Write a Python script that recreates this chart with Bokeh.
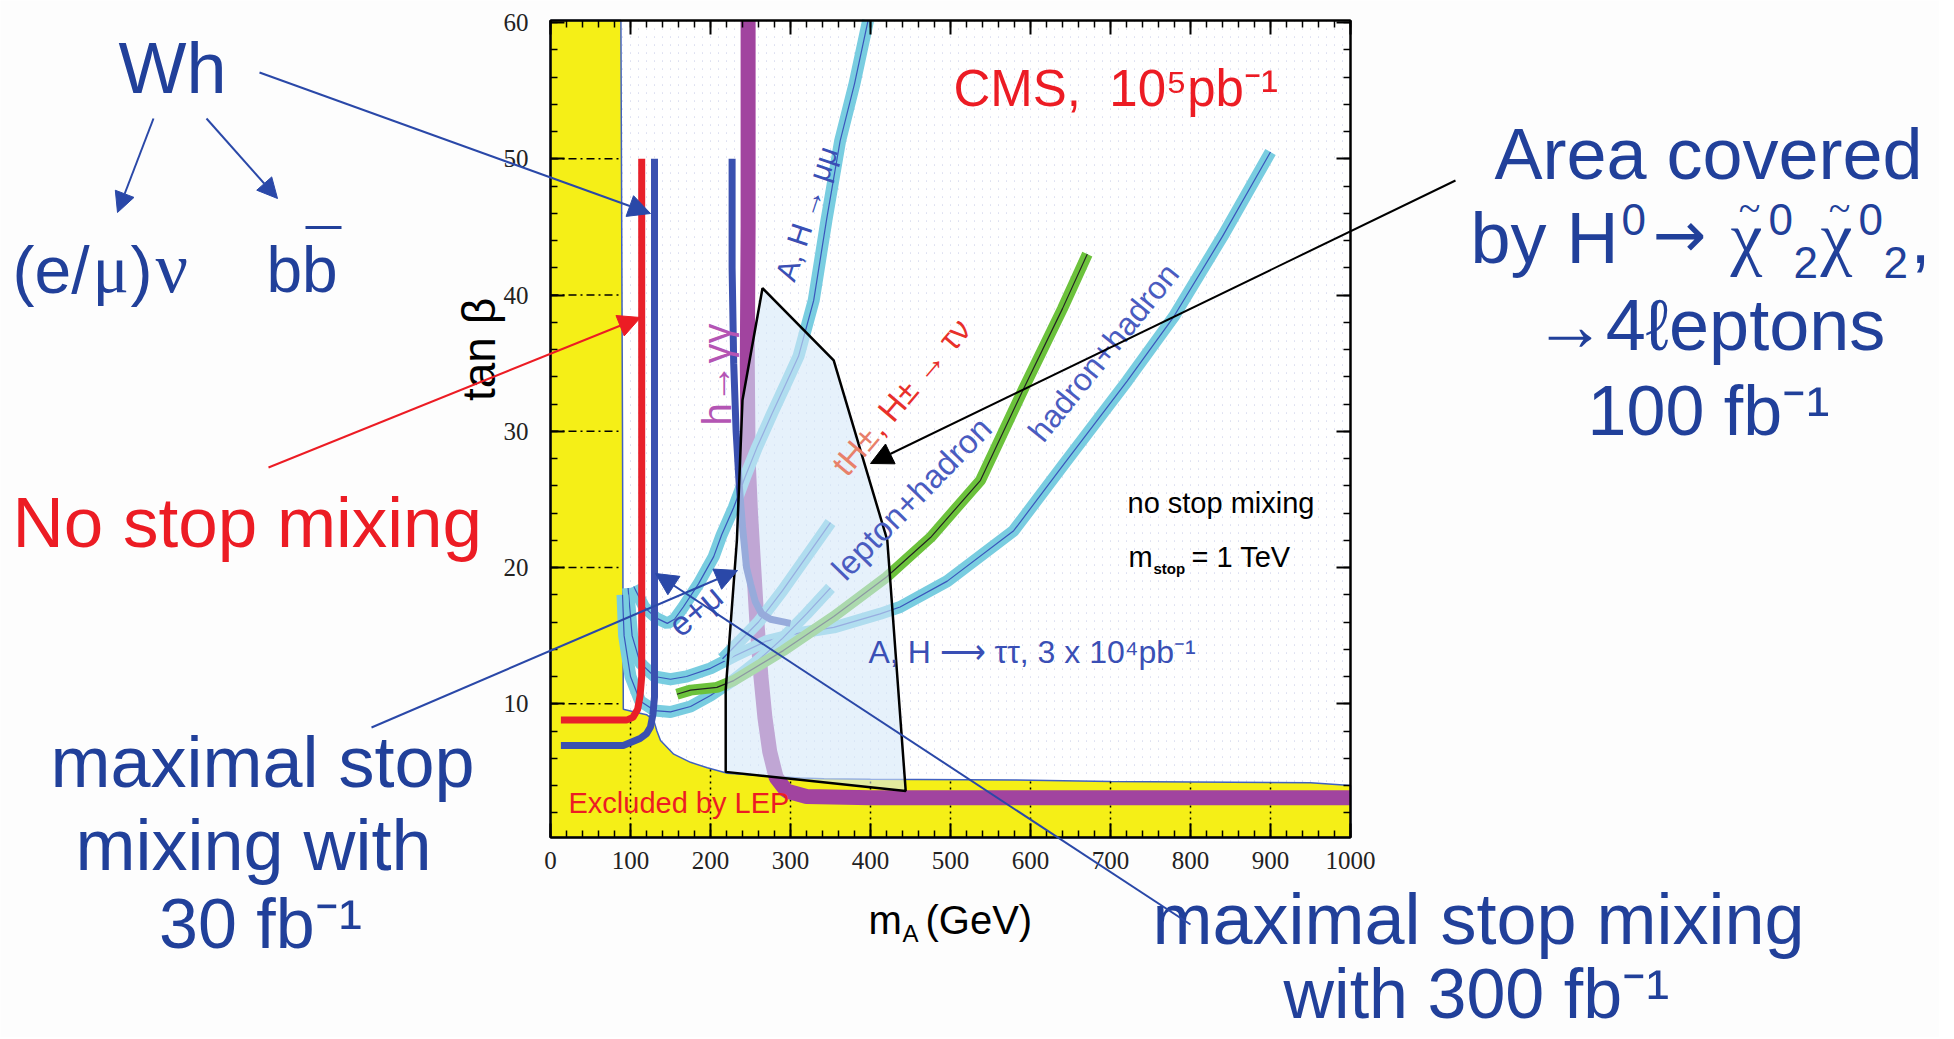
from bokeh.plotting import figure
from bokeh.models import Label, Arrow, NormalHead, LinearAxis, SingleIntervalTicker, Range1d
from bokeh.embed import file_html
from bokeh.resources import INLINE

# ---------------- data (m_A [GeV], tan beta) ----------------
x_lim = [0, 1000]
y_lim = [0.18, 60.15]

lep_x = [0, 88, 90, 91, 105, 120, 129, 133, 137.5, 154, 175, 196, 221, 271, 312, 342, 400, 580, 700, 950, 1000, 1000, 0]
lep_y = [60.15, 60.15, 30, 9.6, 9.4, 9.2, 8.8, 8.0, 7.3, 6.3, 5.7, 5.3, 4.9, 4.7, 4.55, 4.5, 4.45, 4.4, 4.3, 4.2, 4.0, 0.18, 0.18]

hgg_x = [247, 247, 246, 247, 250, 254, 258, 263, 268, 274, 282, 295, 320, 400, 1000]
hgg_y = [60.15, 45, 35, 28, 24, 20, 16, 12, 9, 6.5, 4.6, 3.6, 3.2, 3.1, 3.1]

mumu_x = [397, 380, 362, 345, 329, 310, 296, 277, 258, 243, 229, 214, 204, 185, 166, 155, 146, 132, 117, 104]
mumu_y = [60.15, 55.5, 51.3, 45.5, 39.6, 35.5, 33.7, 31.3, 28.8, 26.6, 24.4, 22.4, 20.8, 18.8, 17.1, 16.2, 15.9, 16.3, 17.1, 18.6]

hadhad_x = [900, 840, 779, 721, 642, 579, 496, 437, 412, 354, 312, 270, 230, 200, 170, 150, 130, 112, 102, 97]
hadhad_y = [50.5, 44.3, 38.4, 33.7, 27.6, 22.7, 19.0, 17.1, 16.6, 15.6, 15.2, 14.6, 13.5, 12.6, 12.0, 11.8, 12.0, 13.0, 15.0, 18.5]

emu_x = [350, 320, 290, 260, 230, 215]
emu_y = [23.3, 20.8, 18.3, 16.0, 14.2, 13.3]

lh_cyan_x = [350, 320, 290, 260, 230, 200, 175, 150, 130, 112, 100, 92, 90]
lh_cyan_y = [18.5, 16.6, 14.8, 13.2, 11.8, 10.6, 9.8, 9.4, 9.5, 10.2, 12.0, 15.0, 18.0]

tn_x = [671, 640, 592, 537.5, 475, 420, 354, 291, 229, 208, 175, 158]
tn_y = [43, 39, 33.2, 26.4, 22.2, 19.3, 16.4, 13.9, 11.7, 11.2, 11.0, 10.7]

nomix_x = [13, 95, 103, 109, 112, 114, 114]
nomix_y = [8.8, 8.8, 9.0, 9.6, 10.6, 12, 50]

max30_x = [13, 91, 112, 120, 125, 128, 130, 130]
max30_y = [6.94, 6.94, 7.45, 7.8, 8.3, 9.2, 10.5, 50]

max300_x = [227, 227, 229, 232, 236, 240, 245, 250, 256, 264, 275, 300]
max300_y = [50, 42, 35, 30, 26, 23, 20, 18.8, 17.5, 16.6, 16.2, 15.9]

chi_x = [265, 354, 421, 444, 219, 219, 233, 240]
chi_y = [40.5, 35.2, 22.0, 3.6, 5.0, 11.0, 22.0, 32.3]

grid_h = [10, 20, 30, 40, 50]
grid_v_x = [100, 200, 300, 400, 500, 600, 700, 800, 900]
grid_v_top = [8.7, 5.3, 4.5, 4.45, 4.4, 4.4, 4.3, 4.2, 4.2]

# ---------------- layout helpers (reference pixels -> data) ----------------
W, H = 1939, 1037
def X(px):
    return (px - 550) / 0.8

def Y(py):
    return (839.5 - py) / 13.625

p = figure(width=W, height=H, x_range=Range1d(X(0), X(W)), y_range=Range1d(Y(H), Y(0)),
           output_backend="svg", toolbar_location=None,
           min_border_left=0, min_border_right=0, min_border_top=0, min_border_bottom=0,
           background_fill_color="#fdfdfd", border_fill_color="#fdfdfd",
           outline_line_color=None, x_axis_type=None, y_axis_type=None)
p.grid.visible = False

def style_axis(ax, labels=True):
    ax.major_tick_in = 14
    ax.major_tick_out = 0
    ax.minor_tick_in = 7
    ax.minor_tick_out = 0
    ax.axis_line_width = 2
    ax.major_tick_line_width = 2
    ax.minor_tick_line_width = 1.5
    ax.major_label_text_font = "Liberation Serif"
    ax.major_label_text_font_size = "25px"
    ax.major_label_text_color = "#222222" if labels else None

xt = SingleIntervalTicker(interval=100, num_minor_ticks=5)
yt = SingleIntervalTicker(interval=10, num_minor_ticks=5)

bottom = LinearAxis(ticker=xt, fixed_location=y_lim[0], bounds=(x_lim[0], x_lim[1]))
style_axis(bottom)
bottom.major_label_standoff = 14
left = LinearAxis(ticker=yt, fixed_location=x_lim[0], bounds=(y_lim[0], y_lim[1]))
style_axis(left)
left.major_label_standoff = 22
top = LinearAxis(ticker=xt, fixed_location=y_lim[1], bounds=(x_lim[0], x_lim[1]))
style_axis(top, False)
right = LinearAxis(ticker=yt, fixed_location=x_lim[1], bounds=(y_lim[0], y_lim[1]))
style_axis(right, False)
p.add_layout(bottom, "below")
p.add_layout(left, "left")
p.add_layout(top, "above")
p.add_layout(right, "right")

# plot box background + dotted grid
p.quad(left=x_lim[0], right=x_lim[1], bottom=y_lim[0], top=y_lim[1], fill_color="white", line_color=None)
gx = list(range(10, 1000, 10))
p.multi_line(xs=[[g, g] for g in gx], ys=[[y_lim[0], y_lim[1]] for _ in gx],
             line_color="#c3c8e6", line_width=1, line_dash="1 7")

# ---------------- regions and bands ----------------
p.patch(lep_x, lep_y, fill_color="#f5ef17", line_color="#4060c0", line_width=1.5)
p.multi_line(xs=[[0, 88] for _ in grid_h], ys=[[g, g] for g in grid_h],
             line_color="black", line_width=1.5, line_dash="8 4 2 4")
p.multi_line(xs=[[v, v] for v in grid_v_x], ys=[[y_lim[0], t] for t in grid_v_top],
             line_color="black", line_width=1.5, line_dash="2 4")

p.line(hgg_x, hgg_y, line_color="#a1449f", line_width=15)

cyan = "#79cde0"
for xs, ys in [(mumu_x, mumu_y), (hadhad_x, hadhad_y), (emu_x, emu_y), (lh_cyan_x, lh_cyan_y)]:
    p.line(xs, ys, line_color=cyan, line_width=12)
    p.line(xs, ys, line_color="#3a55bb", line_width=1.2)

p.line(tn_x, tn_y, line_color="#6cc23c", line_width=11)
p.line(tn_x, tn_y, line_color="#222222", line_width=1.2)

p.line(nomix_x, nomix_y, line_color="#e8202a", line_width=7)
p.line(max30_x, max30_y, line_color="#3a50b0", line_width=7)
p.line(max300_x, max300_y, line_color="#3a50b0", line_width=7)

p.patch(chi_x, chi_y, fill_color="#d6e8f8", fill_alpha=0.6, line_color="black", line_width=2.5)

# plot box outline
p.quad(left=x_lim[0], right=x_lim[1], bottom=y_lim[0], top=y_lim[1], fill_color=None,
       line_color="black", line_width=2)

# ---------------- texts ----------------
def lab(text, px, py, size, color, align="left", angle=0, baseline="alphabetic",
        font="Liberation Sans", style="normal"):
    if baseline == "alphabetic":
        py = py - 0.36 * size
    p.add_layout(Label(x=X(px), y=Y(py), text=text, text_font_size=f"{size}px",
                       text_color=color, text_align=align, text_baseline=baseline,
                       angle=angle, angle_units="deg", text_font=font, text_font_style=style))

BLUE = "#21409a"
RED = "#ec1c24"
PB = "#3a4fb5"
SERIF = "Liberation Serif"

# inside plot
lab("CMS,\u00a0\u00a010\u2075pb\u207b\u00b9", 953, 106, 51, RED)
lab("no stop mixing", 1127, 513, 29, "black")
lab("m", 1128, 567, 29, "black")
lab("stop", 1153, 573, 15, "black", style="bold")
lab("= 1 TeV", 1191, 567, 29, "black")
lab("A, H \u27f6 \u03c4\u03c4, 3 x 10\u2074pb\u207b\u00b9", 868, 663, 32, PB)
lab("Excluded by LEP", 568, 813, 29, RED)
lab("A, H \u2192 \u03bc\u03bc", 806, 213, 30, PB, align="center", angle=71.7, baseline="middle")
lab("h\u2192\u03b3\u03b3", 716, 374, 40, "#b455b4", align="center", angle=90, baseline="middle")
lab("tH\u00b1", 838, 470, 33, "#e8806a", angle=49.6, baseline="middle")
lab(", H\u00b1 \u2192 \u03c4\u03bd", 872, 430, 33, "#e8302a", angle=49.6, baseline="middle")
lab("lepton+hadron", 911, 498, 33, "#4a5cc0", align="center", angle=45.7, baseline="middle")
lab("hadron+hadron", 1103, 352, 32, "#4a5cc0", align="center", angle=51, baseline="middle")
lab("e+\u03bc", 695, 610, 34, PB, align="center", angle=40, baseline="middle")

# axis titles
lab("tan \u03b2", 478, 349, 46, "black", align="center", angle=90, baseline="middle")
lab("m", 868, 934, 40, "black")
lab("A", 902, 942, 24, "black")
lab("(GeV)", 925, 934, 40, "black")

# outside annotations
lab("Wh", 118, 93, 72, BLUE)
lab("(e/", 12, 293, 66, BLUE)
lab("\u03bc", 92, 293, 68, BLUE, font=SERIF)
lab(")", 130, 293, 66, BLUE)
lab("\u03bd", 155, 293, 72, BLUE, font=SERIF)
lab("bb", 266, 293, 64, BLUE)
lab("No stop mixing", 12, 548, 71, RED)
lab("maximal stop", 262, 787, 72, BLUE, align="center")
lab("mixing with", 253, 870, 72, BLUE, align="center")
lab("30 fb\u207b\u00b9", 260, 949, 70, BLUE, align="center")
lab("maximal stop mixing", 1478, 944, 72, BLUE, align="center")
lab("with 300 fb\u207b\u00b9", 1476, 1019, 70, BLUE, align="center")
lab("Area covered", 1708, 179, 72, BLUE, align="center")
# "by H0 -> chi~0_2 chi~0_2,"
lab("by H", 1470, 263, 72, BLUE)
lab("0", 1621, 235, 44, BLUE)
lab("\u2192", 1652, 258, 64, BLUE, font="DejaVu Sans")
lab("\u03c7", 1730, 263, 72, BLUE, font=SERIF)
lab("~", 1749, 222, 40, BLUE, align="center", font=SERIF)
lab("0", 1768, 235, 44, BLUE)
lab("2", 1793, 278, 44, BLUE)
lab("\u03c7", 1820, 263, 72, BLUE, font=SERIF)
lab("~", 1839, 222, 40, BLUE, align="center", font=SERIF)
lab("0", 1858, 235, 44, BLUE)
lab("2", 1883, 278, 44, BLUE)
lab(",", 1910, 263, 72, BLUE)
lab("\u21924\u2113eptons", 1709, 350, 72, BLUE, align="center")
lab("100 fb\u207b\u00b9", 1708, 436, 70, BLUE, align="center")

def arrow(x0, y0, x1, y1, color, width=2, head=20):
    end = NormalHead(size=head, fill_color=color, line_color=color) if head else None
    p.add_layout(Arrow(end=end, x_start=X(x0), y_start=Y(y0), x_end=X(x1), y_end=Y(y1),
                       line_color=color, line_width=width))

AB = "#2a48a8"
arrow(305, 227, 341, 227, BLUE, width=3, head=0)       # overline of b-bar
arrow(153, 118, 117, 212, AB, head=20)
arrow(206, 118, 277, 198, AB, head=20)
arrow(259, 72, 650, 213, AB, head=22)
arrow(268, 467, 640, 317, "#ec1c24", head=22)
arrow(371, 727, 737, 570, AB, head=22)
arrow(1190, 924, 655, 573, AB, head=22)
arrow(1455, 180, 870, 463, "black", head=22)

open("out.html", "w").write(file_html(p, INLINE))
